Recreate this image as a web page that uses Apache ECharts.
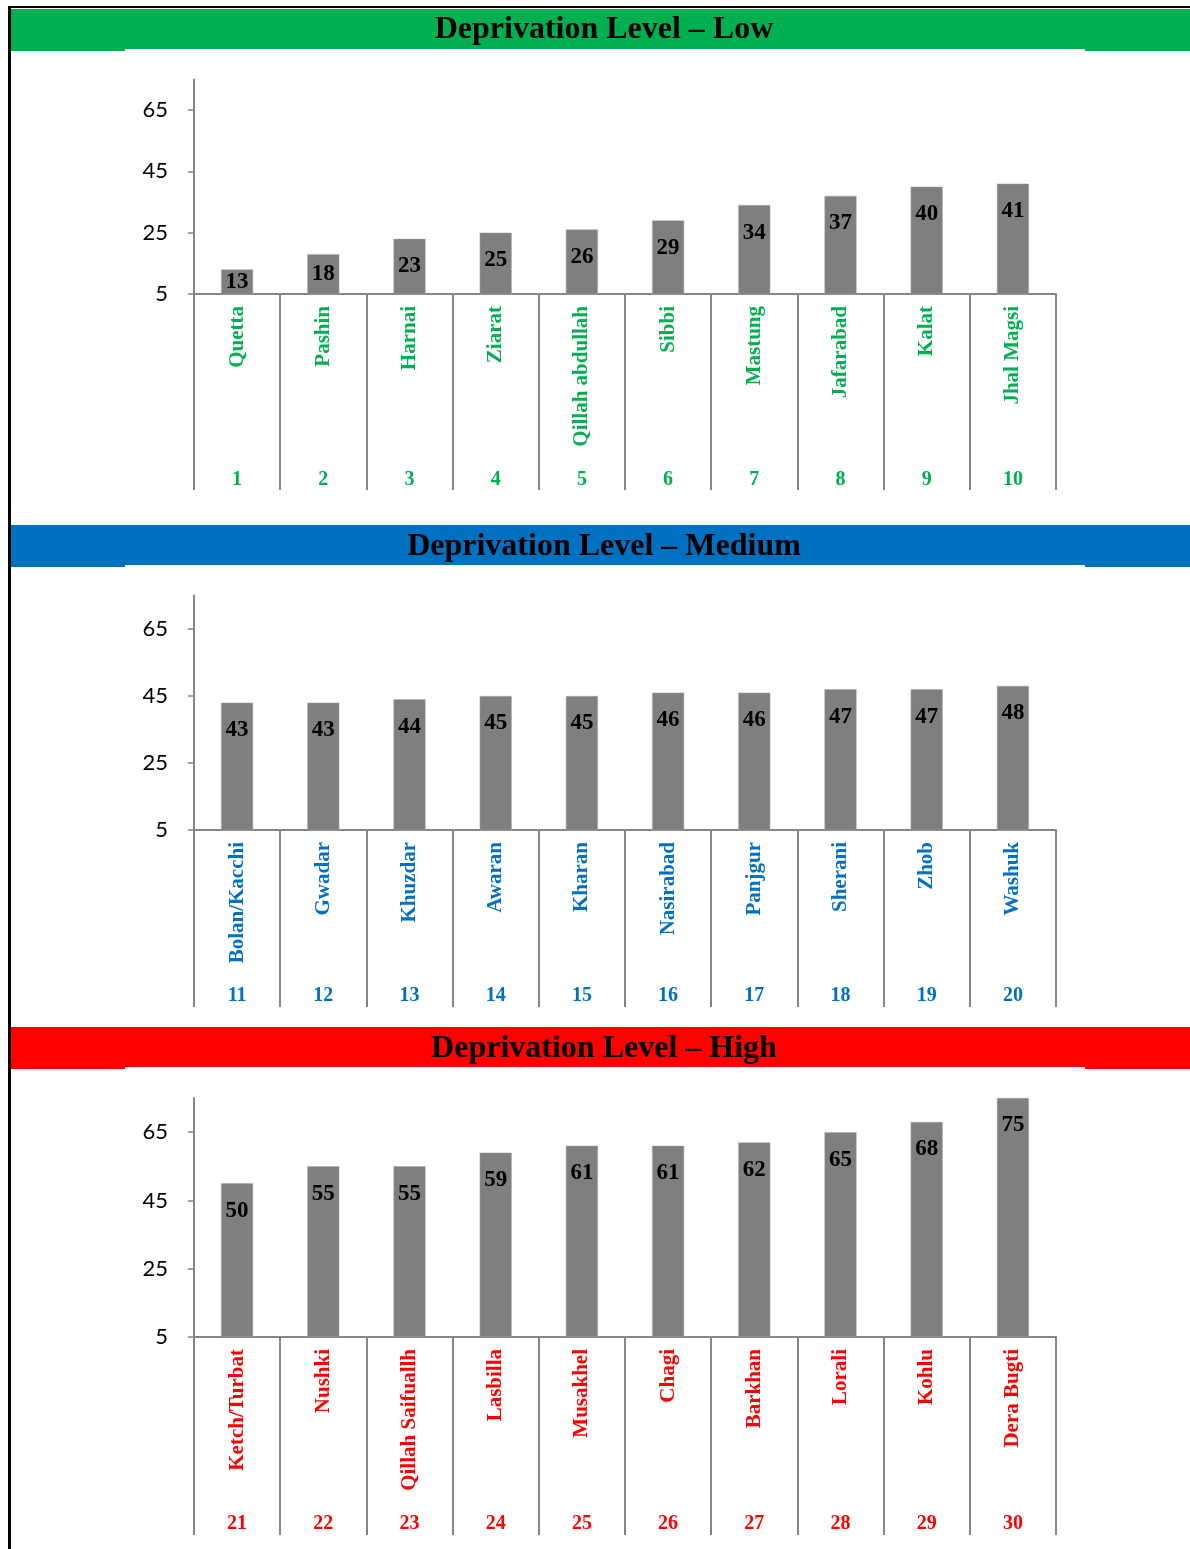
<!DOCTYPE html>
<html>
<head>
<meta charset="utf-8">
<script src="https://cdn.jsdelivr.net/npm/echarts@6/dist/echarts.min.js"></script>
<style>
  html, body { margin: 0; padding: 0; background: #fff; }
  #chart { width: 1190px; height: 1549px; }
</style>
</head>
<body>
<div id="chart"></div>
<script>
// data
const lowNames = ['Quetta', 'Pashin', 'Harnai', 'Ziarat', 'Qillah abdullah', 'Sibbi', 'Mastung', 'Jafarabad', 'Kalat', 'Jhal Magsi']
const lowRanks = ['1', '2', '3', '4', '5', '6', '7', '8', '9', '10']
const lowValues = [13, 18, 23, 25, 26, 29, 34, 37, 40, 41]

const mediumNames = ['Bolan/Kacchi', 'Gwadar', 'Khuzdar', 'Awaran', 'Kharan', 'Nasirabad', 'Panjgur', 'Sherani', 'Zhob', 'Washuk']
const mediumRanks = ['11', '12', '13', '14', '15', '16', '17', '18', '19', '20']
const mediumValues = [43, 43, 44, 45, 45, 46, 46, 47, 47, 48]

const highNames = ['Ketch/Turbat', 'Nushki', 'Qillah Saifuallh', 'Lasbilla', 'Musakhel', 'Chagi', 'Barkhan', 'Lorali', 'Kohlu', 'Dera Bugti']
const highRanks = ['21', '22', '23', '24', '25', '26', '27', '28', '29', '30']
const highValues = [50, 55, 55, 59, 61, 61, 62, 65, 68, 75]

const yTicks = [5, 25, 45, 65]
const titles = ['Deprivation Level \u2013 Low', 'Deprivation Level \u2013 Medium', 'Deprivation Level \u2013 High']

const serif = '"Liberation Serif", "Times New Roman", serif'
const axisGray = '#868686'

// layout of the three panels
const panels = [
  { names: lowNames, ranks: lowRanks, values: lowValues, color: '#00B050', bandY: 9, titleTop: 14, gridTop: 79.4, gridH: 214.6, tickLen: 196, rankOffset: 176 },
  { names: mediumNames, ranks: mediumRanks, values: mediumValues, color: '#0070C0', bandY: 525, titleTop: 531, gridTop: 595.5, gridH: 234.5, tickLen: 177, rankOffset: 156 },
  { names: highNames, ranks: highRanks, values: highValues, color: '#FF0000', bandY: 1027, titleTop: 1033, gridTop: 1098, gridH: 239, tickLen: 198, rankOffset: 177 },
]

const chart = echarts.init(document.getElementById('chart'))

const grid = []
const xAxis = []
const yAxis = []
const series = []
const title = []
const graphic = [
  // page frame lines
  { type: 'rect', shape: { x: 8, y: 6, width: 1182, height: 2 }, style: { fill: '#000' }, z: 10 },
  { type: 'rect', shape: { x: 8, y: 6, width: 3, height: 1543 }, style: { fill: '#000' }, z: 10 },
]

panels.forEach((p, i) => {
  graphic.push({ type: 'rect', shape: { x: 11, y: p.bandY, width: 1179, height: 42 }, style: { fill: p.color }, z: 1 })
  graphic.push({ type: 'rect', shape: { x: 125, y: p.bandY + 40, width: 960, height: 2 }, style: { fill: '#fff' }, z: 2 })

  title.push({
    text: titles[i],
    left: 604,
    top: p.titleTop,
    padding: 0,
    textAlign: 'center',
    textStyle: { fontFamily: serif, fontWeight: 'bold', fontSize: 32, color: '#000' },
  })

  grid.push({ left: 194, width: 862, top: p.gridTop, height: p.gridH })

  // district names
  xAxis.push({
    type: 'category',
    gridIndex: i,
    data: p.names,
    axisLine: { lineStyle: { color: axisGray, width: 2 } },
    axisTick: { show: true, length: p.tickLen, lineStyle: { color: axisGray, width: 2 } },
    axisLabel: {
      rotate: 90,
      margin: 12,
      interval: 0,
      color: p.color,
      fontFamily: serif,
      fontWeight: 'bold',
      fontSize: 21,
    },
  })
  // rank numbers under the names
  xAxis.push({
    type: 'category',
    gridIndex: i,
    position: 'bottom',
    offset: p.rankOffset,
    data: p.ranks,
    axisLine: { show: false },
    axisTick: { show: false },
    axisLabel: {
      margin: 0,
      interval: 0,
      color: p.color,
      fontFamily: serif,
      fontWeight: 'bold',
      fontSize: 20,
    },
  })

  yAxis.push({
    type: 'value',
    gridIndex: i,
    min: 5,
    max: 75,
    interval: 20,
    splitLine: { show: false },
    axisLine: { show: true, lineStyle: { color: axisGray, width: 2 } },
    axisTick: { show: true, length: 6, customValues: yTicks, lineStyle: { color: axisGray, width: 1.5 } },
    axisLabel: {
      customValues: yTicks,
      margin: 26,
      color: '#000',
      fontFamily: 'Lato, "Open Sans", sans-serif',
      fontSize: 22,
    },
  })

  series.push({
    type: 'bar',
    xAxisIndex: i * 2,
    yAxisIndex: i,
    barWidth: 32,
    itemStyle: { color: '#7F7F7F', borderColor: '#A6A6A6', borderWidth: 0.5 },
    label: {
      show: true,
      position: 'insideTop',
      distance: 16,
      color: '#000',
      fontFamily: serif,
      fontWeight: 'bold',
      fontSize: 23,
    },
    // short bars can't hold the label under the top edge, centre it instead
    data: p.values.map((v) => (v < 20 ? { value: v, label: { position: 'inside' } } : v)),
  })
})

chart.setOption({
  animation: false,
  backgroundColor: '#fff',
  title,
  grid,
  xAxis,
  yAxis,
  series,
  graphic,
})
</script>
</body>
</html>
